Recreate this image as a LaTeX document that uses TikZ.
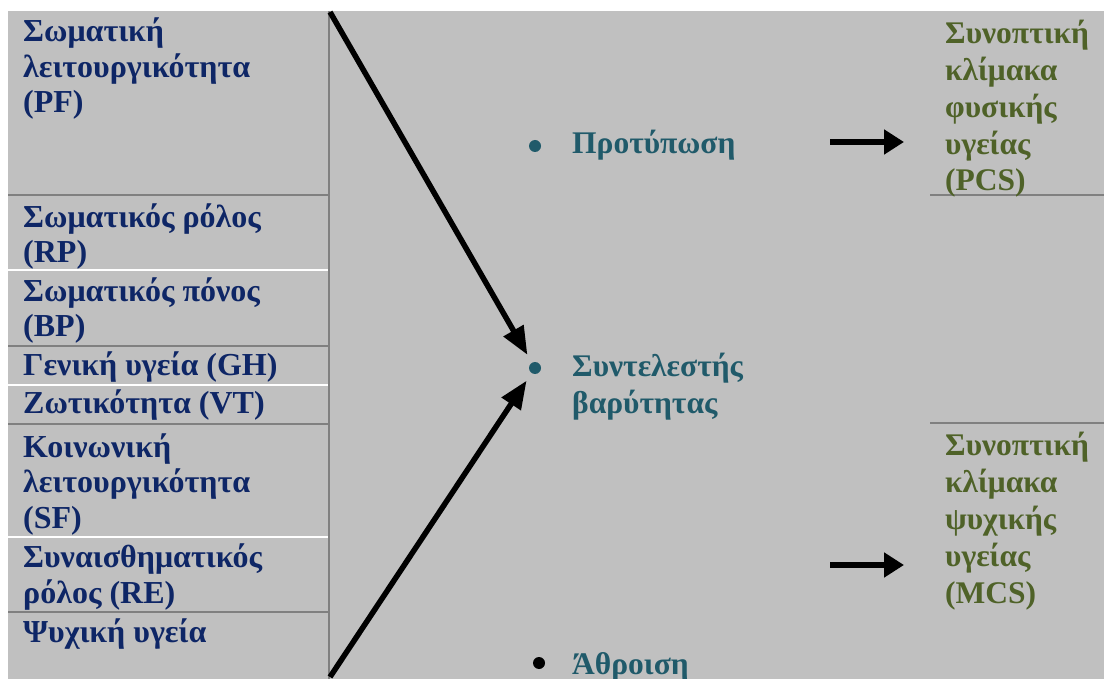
\documentclass[tikz,border=0pt]{standalone}
\usepackage{fontspec}
\setmainfont{Liberation Serif}
\usetikzlibrary{arrows.meta}

\definecolor{panel}{RGB}{192,192,192}
\definecolor{rule}{RGB}{128,128,128}
\definecolor{navy}{RGB}{14,38,102}
\definecolor{teal}{RGB}{32,90,106}
\definecolor{olive}{RGB}{79,98,40}

% multi-line labels are anchored at the baseline of their last line
\tikzset{
  scale label/.style={anchor=base west, inner sep=0pt, align=left,
    font=\fontsize{32}{35.5}\selectfont\bfseries, text=navy},
  method label/.style={anchor=base west, inner sep=0pt, align=left,
    font=\fontsize{31.5}{36}\selectfont\bfseries, text=teal},
  summary label/.style={anchor=base west, inner sep=0pt, align=left,
    font=\fontsize{31.5}{36.8}\selectfont\bfseries, text=olive},
  bulletdot/.style={circle, inner sep=0pt, minimum size=12pt},
  grayrule/.style={draw=rule, line width=1.5pt},
  whiterule/.style={draw=white, line width=1.5pt},
  flow/.style={line width=5.5pt, -{Triangle[length=28pt,width=22pt]}},
  result/.style={line width=6pt, -{Triangle[length=20pt,width=24pt]}},
}

\begin{document}
\begin{tikzpicture}[x=1pt,y=-1pt]
  \useasboundingbox (0,0) rectangle (1104,679);
  \clip (0,0) rectangle (1104,679);
  \fill[white] (0,0) rectangle (1104,679);
  \fill[panel] (8,11) rectangle (1104,679);

  % left column: cell separators and column border
  \draw[grayrule] (8,195) -- (329,195);
  \draw[whiterule] (8,270) -- (329,270);
  \draw[grayrule] (8,346) -- (329,346);
  \draw[whiterule] (8,385) -- (329,385);
  \draw[grayrule] (8,424) -- (329,424);
  \draw[whiterule] (8,537) -- (329,537);
  \draw[grayrule] (8,612) -- (329,612);
  \draw[grayrule] (329,11) -- (329,679);

  % right column separators
  \draw[grayrule] (930,195) -- (1104,195);
  \draw[grayrule] (930,423) -- (1104,423);

  % the eight SF-36 scales
  \node[scale label] (pf) at (23,113) {Σωματική\\λειτουργικότητα\\(PF)};
  \node[scale label] (rp) at (23,263) {Σωματικός ρόλος\\(RP)};
  \node[scale label] (bp) at (23,337) {Σωματικός πόνος\\(BP)};
  \node[scale label] (gh) at (23,375) {Γενική υγεία (GH)};
  \node[scale label] (vt) at (23,413) {Ζωτικότητα (VT)};
  \node[scale label] (sf) at (23,528) {Κοινωνική\\λειτουργικότητα\\(SF)};
  \node[scale label] (re) at (23,603) {Συναισθηματικός\\ρόλος (RE)};
  \node[scale label] (mh) at (23,642) {Ψυχική υγεία};

  % scoring steps
  \node[bulletdot, fill=teal] (b1) at (535,146) {};
  \node[method label] (std) at (572,154) {Προτύπωση};
  \node[bulletdot, fill=teal] (b2) at (535,368) {};
  \node[method label] (wgt) at (572,413) {Συντελεστής\\βαρύτητας};
  \node[bulletdot, fill=black] (b3) at (539,663) {};
  \node[method label] (sum) at (572,674) {Άθροιση};

  % summary scales
  \node[summary label] (pcs) at (945,191) {Συνοπτική\\κλίμακα\\φυσικής\\υγείας\\(PCS)};
  \node[summary label] (mcs) at (945,603) {Συνοπτική\\κλίμακα\\ψυχικής\\υγείας\\(MCS)};

  % arrows
  \coordinate (topin) at (330,12);
  \coordinate (botin) at (330,677);
  \draw[flow, shorten >=9pt] (topin) -- (b2);
  \draw[flow, shorten >=9pt] (botin) -- (b2);

  \coordinate (pcsfrom) at (830,142);
  \coordinate (pcsto) at (904,142);
  \coordinate (mcsfrom) at (830,565);
  \coordinate (mcsto) at (904,565);
  \draw[result] (pcsfrom) -- (pcsto);
  \draw[result] (mcsfrom) -- (mcsto);
\end{tikzpicture}
\end{document}
